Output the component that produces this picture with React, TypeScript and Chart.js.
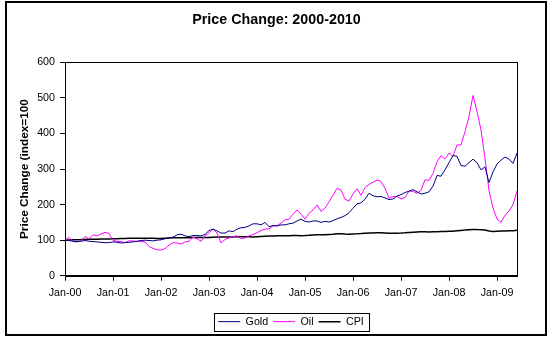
import React, { useEffect, useRef } from "react";
import { Chart, registerables } from "chart.js";

Chart.register(...registerables);

const years = ["00", "01", "02", "03", "04", "05", "06", "07", "08", "09"];
const monthNames = ["Jan", "Feb", "Mar", "Apr", "May", "Jun", "Jul", "Aug", "Sep", "Oct", "Nov", "Dec"];
const tickLabels = ["Jan-00", "Jan-01", "Jan-02", "Jan-03", "Jan-04", "Jan-05", "Jan-06", "Jan-07", "Jan-08", "Jan-09"];

const gold = [
  100, 99, 97, 96, 97, 99, 97, 96, 95, 94, 93, 93,
  95, 94, 92, 93, 94, 95, 97, 99, 100, 99, 98, 100,
  101, 104, 107, 108, 115, 117, 112, 110, 113, 113, 112, 116,
  127, 131, 126, 120, 120, 126, 124, 131, 135, 136, 140, 146,
  146, 143, 150, 138, 141, 140, 143, 143, 146, 148, 154, 159,
  153, 151, 154, 154, 150, 153, 151, 155, 160, 164, 169, 177,
  190, 202, 205, 215, 232, 225, 222, 223, 219, 214, 216, 224,
  228, 234, 238, 242, 236, 230, 232, 236, 252, 282, 280, 298,
  318, 338, 336, 310, 308, 318, 328, 318, 298, 306, 262, 292,
  314, 325, 334, 328, 316, 345,
];

const oil = [
  100, 108, 96, 95, 98, 110, 104, 115, 112, 117, 122, 119,
  99, 97, 96, 93, 98, 98, 96, 97, 95, 82, 77, 73,
  72, 76, 86, 93, 92, 89, 95, 97, 108, 104, 97, 112,
  120, 132, 120, 92, 102, 106, 110, 112, 105, 106, 112, 116,
  121, 127, 131, 132, 140, 141, 148, 157, 159, 173, 185, 173,
  159, 176, 185, 199, 181, 190, 208, 227, 246, 241, 215, 210,
  230, 245, 226, 248, 257, 263, 269, 265, 246, 218, 223, 223,
  216, 220, 238, 237, 232, 240, 270, 268, 288, 320, 338, 328,
  345, 336, 368, 368, 405, 448, 507, 462, 410, 330, 240, 190,
  160, 150, 170, 182, 200, 238,
];

const cpi = [
  100.0, 100.6, 101.4, 101.5, 101.6, 102.1, 102.4, 102.4, 102.9, 103.1, 103.1, 103.1,
  103.7, 104.1, 104.4, 104.8, 105.3, 105.5, 105.2, 105.2, 105.6, 105.3, 105.1, 104.7,
  104.9, 105.3, 105.9, 106.5, 106.5, 106.6, 106.7, 107.1, 107.2, 107.4, 107.4, 107.2,
  107.6, 108.5, 109.1, 108.9, 108.7, 108.8, 108.9, 109.4, 109.7, 109.6, 109.3, 109.2,
  109.7, 110.3, 111.0, 111.4, 112.0, 112.4, 112.2, 112.3, 112.5, 113.1, 113.2, 112.7,
  113.0, 113.6, 114.5, 115.3, 115.2, 115.2, 115.8, 116.4, 117.8, 118.0, 117.1, 116.6,
  117.5, 117.7, 118.4, 119.4, 120.0, 120.2, 120.6, 120.8, 120.2, 119.5, 119.4, 119.5,
  119.9, 120.6, 121.7, 122.4, 123.2, 123.4, 123.4, 123.2, 123.5, 123.8, 124.5, 124.4,
  125.0, 125.4, 126.5, 127.3, 128.3, 129.6, 130.3, 129.8, 129.6, 128.3, 125.8, 124.5,
  125.1, 125.7, 126.0, 126.3, 126.7, 127.8,
];

const categories: string[] = [];
for (const y of years) {
  for (const m of monthNames) {
    if (categories.length < gold.length) categories.push(`${m}-${y}`);
  }
}

const FONT = "'Liberation Sans', Arial, sans-serif";

const plotBorder = {
  id: "plotBorder",
  beforeDatasetsDraw(chart: any) {
    const { ctx, chartArea } = chart;
    ctx.save();
    ctx.strokeStyle = "#000";
    ctx.lineWidth = 1;
    const l = Math.round(chartArea.left) + 0.5;
    const t = Math.round(chartArea.top) + 0.5;
    const r = Math.round(chartArea.right) + 0.5;
    const b = Math.round(chartArea.bottom) + 0.5;
    ctx.strokeRect(l, t, r - l, b - t);
    ctx.restore();
  },
};

const legendBox = {
  id: "legendBox",
  afterDraw(chart: any) {
    const lg = chart.legend;
    if (!lg || !lg.legendHitBoxes || !lg.legendHitBoxes.length) return;
    const hb = lg.legendHitBoxes;
    const first = hb[0];
    const last = hb[hb.length - 1];
    const left = Math.round(first.left - 4) + 0.5;
    const right = Math.round(last.left + last.width + 5) + 0.5;
    const cy = first.top + first.height / 2;
    const top = Math.round(cy - 9) + 0.5;
    const bottom = Math.round(cy + 9) + 0.5;
    const { ctx } = chart;
    ctx.save();
    ctx.strokeStyle = "#000";
    ctx.lineWidth = 1;
    ctx.strokeRect(left, top, right - left, bottom - top);
    ctx.restore();
  },
};

export default function App() {
  const ref = useRef<HTMLCanvasElement | null>(null);

  useEffect(() => {
    if (!ref.current) return;
    const chart = new Chart(ref.current, {
      type: "line",
      data: {
        labels: categories,
        datasets: [
          { label: "Gold", data: gold, borderColor: "#000080", backgroundColor: "#000080", borderWidth: 1, pointRadius: 0, tension: 0 },
          { label: "Oil", data: oil, borderColor: "#FF00FF", backgroundColor: "#FF00FF", borderWidth: 1, pointRadius: 0, tension: 0 },
          { label: "CPI", data: cpi, borderColor: "#000000", backgroundColor: "#000000", borderWidth: 1.5, pointRadius: 0, tension: 0 },
        ],
      },
      options: {
        animation: false,
        responsive: false,
        events: [],
        layout: { padding: { left: 0, right: 0, top: 0, bottom: 0 } },
        plugins: {
          title: {
            display: true,
            text: "Price Change: 2000-2010",
            color: "#000",
            font: { family: FONT, size: 14.3, weight: "bold" },
            padding: { top: 11.8, bottom: 33.5 },
          },
          legend: {
            display: true,
            position: "bottom",
            fullSize: false,
            labels: {
              color: "#000",
              font: { family: FONT, size: 10.7, lineHeight: 1 },
              usePointStyle: true,
              pointStyle: "line",
              pointStyleWidth: 22,
              padding: 5,
            },
          },
          tooltip: { enabled: false },
        },
        scales: {
          x: {
            type: "category",
            offset: false,
            grid: {
              display: true,
              drawOnChartArea: false,
              drawTicks: true,
              tickLength: 5,
              tickColor: (c: any) => (c.index % 12 === 0 ? "#000" : "rgba(0,0,0,0)"),
            },
            border: { display: true, color: "#000", width: 1 },
            ticks: {
              autoSkip: false,
              maxRotation: 0,
              minRotation: 0,
              padding: 6,
              color: "#000",
              font: { family: FONT, size: 10.7 },
              callback: (_v: any, i: number) => (i % 12 === 0 ? tickLabels[i / 12] : ""),
            },
            afterFit: (s: any) => {
              s.height = 35.6;
            },
          },
          y: {
            type: "linear",
            position: "left",
            min: 0,
            max: 600,
            grid: {
              display: true,
              drawOnChartArea: false,
              drawTicks: true,
              tickLength: 5,
              tickColor: "#000",
            },
            border: { display: true, color: "#000", width: 1 },
            ticks: {
              stepSize: 100,
              padding: 5,
              color: "#000",
              font: { family: FONT, size: 10.7 },
            },
            title: {
              display: true,
              text: "Price Change (index=100",
              color: "#000",
              font: { family: FONT, size: 11.8, weight: "bold" },
              padding: { top: 18, bottom: 0 },
            },
            afterFit: (s: any) => {
              s.width = 65;
            },
          },
          yRight: {
            type: "linear",
            position: "right",
            display: true,
            grid: { display: false },
            border: { display: false },
            ticks: { display: false },
            afterFit: (s: any) => {
              s.width = 36;
            },
          },
        },
      },
      plugins: [plotBorder, legendBox],
    });
    return () => chart.destroy();
  }, []);

  return (
    <div>
      <canvas
        ref={ref}
        width={553}
        height={337}
        style={{ position: "absolute", left: 0, top: 0, width: 553, height: 337 }}
      />
      <div
        style={{
          position: "absolute",
          left: 5,
          top: 1,
          width: 542,
          height: 335,
          border: "2px solid #000",
          boxSizing: "border-box",
          pointerEvents: "none",
        }}
      />
    </div>
  );
}
